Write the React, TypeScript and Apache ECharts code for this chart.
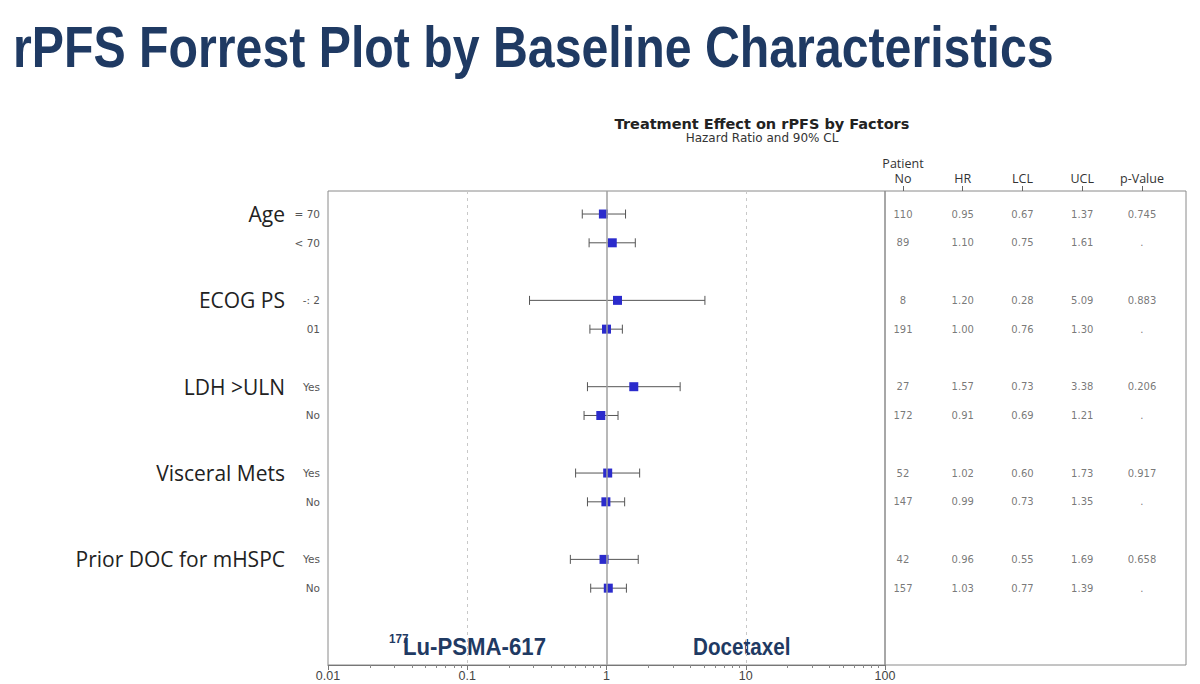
import React, { useEffect, useRef } from "react";
import * as echarts from "echarts";

// ---------- data ----------
const groups = ["Age", "ECOG PS", "LDH >ULN", "Visceral Mets", "Prior DOC for mHSPC"];
const subLabels = ["= 70", "< 70", "-: 2", "01", "Yes", "No", "Yes", "No", "Yes", "No"];
const rowGroup = [0, 0, 1, 1, 2, 2, 3, 3, 4, 4];
const patientNo = [110, 89, 8, 191, 27, 172, 52, 147, 42, 157];
const hr = [0.95, 1.1, 1.2, 1.0, 1.57, 0.91, 1.02, 0.99, 0.96, 1.03];
const lcl = [0.67, 0.75, 0.28, 0.76, 0.73, 0.69, 0.6, 0.73, 0.55, 0.77];
const ucl = [1.37, 1.61, 5.09, 1.3, 3.38, 1.21, 1.73, 1.35, 1.69, 1.39];
const pValue = ["0.745", ".", "0.883", ".", "0.206", ".", "0.917", ".", "0.658", "."];
const tableHeaders = ["Patient\nNo", "HR", "LCL", "UCL", "p-Value"];
const xTickValues = [0.01, 0.1, 1, 10, 100];
const xTickLabels = ["0.01", "0.1", "1", "10", "100"];
const minorMultipliers = [2, 3, 4, 5, 6, 7, 8, 9];
const dashedRefs = [0.1, 10];
const nullEffect = 1;
const armLeft = "Lu-PSMA-617";
const armLeftSup = "177";
const armRight = "Docetaxel";
const mainTitle = "rPFS Forrest Plot by Baseline Characteristics";
const chartTitle = "Treatment Effect on rPFS by Factors";
const chartSubtitle = "Hazard Ratio and 90% CL";

// ---------- derived ----------
const subIndexInGroup = rowGroup.map((g, i) => rowGroup.slice(0, i).filter((x) => x === g).length);
const rowPos = rowGroup.map((g, i) => g * 3 + subIndexInGroup[i]);
const minorTicks = xTickValues
  .slice(0, -1)
  .flatMap((d) => minorMultipliers.map((m) => +(d * m).toPrecision(3)));

const NAVY = "#1f3a63";
const ARIAL = "'Liberation Sans', Arial, sans-serif";
const DEJAVU = "'DejaVu Sans', Verdana, sans-serif";

export default function App() {
  const ref = useRef<HTMLDivElement>(null);

  useEffect(() => {
    if (!ref.current) return;
    const chart = echarts.init(ref.current, null, { renderer: "svg" });

    const yMin = -0.8;
    const yMax = 15.67;

    const tableData: any[] = [];
    rowPos.forEach((y, i) => {
      const vals = [
        String(patientNo[i]),
        hr[i].toFixed(2),
        lcl[i].toFixed(2),
        ucl[i].toFixed(2),
        pValue[i],
      ];
      vals.forEach((t, c) => tableData.push([c, y, t]));
    });

    const option: any = {
      animation: false,
      backgroundColor: "#ffffff",
      title: [
        {
          text: chartTitle,
          subtext: chartSubtitle,
          left: 757,
          textAlign: "center",
          top: 111,
          itemGap: 1,
          textStyle: { fontSize: 14.5, fontWeight: "bold", color: "#222", fontFamily: DEJAVU },
          subtextStyle: { fontSize: 12, color: "#333", fontFamily: DEJAVU },
        },
      ],
      grid: [
        {
          left: 328, right: 315, top: 191, bottom: 19, show: true, borderColor: "#8a8a8a", borderWidth: 1,
          outerBoundsMode: "none", containLabel: false,
        },
        {
          left: 885, right: 14, top: 191, bottom: 19, show: true, borderColor: "#8a8a8a", borderWidth: 1,
          outerBoundsMode: "none", containLabel: false,
        },
      ],
      xAxis: [
        {
          type: "log",
          logBase: 10,
          gridIndex: 0,
          min: 0.01,
          max: 100,
          position: "bottom",
          axisLine: { show: true, onZero: false, lineStyle: { color: "#777" } },
          axisTick: { show: true, customValues: xTickValues, length: 5, lineStyle: { color: "#777" } },
          axisLabel: {
            customValues: xTickValues,
            formatter: (v: number) => {
              let best = 0;
              xTickValues.forEach((t, i) => {
                if (Math.abs(Math.log10(t) - Math.log10(v)) < Math.abs(Math.log10(xTickValues[best]) - Math.log10(v))) best = i;
              });
              return xTickLabels[best];
            },
            color: "#444",
            fontSize: 12.5,
            margin: 4,
            fontFamily: ARIAL,
          },
          splitLine: { show: false },
        },
        {
          type: "log",
          logBase: 10,
          gridIndex: 0,
          min: 0.01,
          max: 100,
          position: "bottom",
          axisLine: { show: false, onZero: false },
          axisTick: { show: true, customValues: minorTicks, length: 3, lineStyle: { color: "#888" } },
          axisLabel: { show: false },
          splitLine: { show: false },
        },
        {
          type: "value",
          gridIndex: 1,
          min: -0.301,
          max: 4.737,
          position: "top",
          axisLine: { show: false, onZero: false },
          axisTick: { show: true, customValues: [0, 1, 2, 3, 4], length: 5, lineStyle: { color: "#666" } },
          axisLabel: {
            customValues: [0, 1, 2, 3, 4],
            formatter: (v: number) => tableHeaders[Math.round(v)] ?? "",
            color: "#333",
            fontSize: 12.5,
            lineHeight: 15,
            margin: 5,
            fontFamily: "'Open Sans', sans-serif",
          },
          splitLine: { show: false },
        },
      ],
      yAxis: [
        {
          type: "value",
          gridIndex: 0,
          inverse: true,
          min: yMin,
          max: yMax,
          axisLine: { show: false, onZero: false },
          axisTick: { show: false },
          splitLine: { show: false },
          axisLabel: {
            customValues: rowPos,
            margin: 8,
            formatter: (v: number) => {
              const i = rowPos.findIndex((p) => Math.abs(p - v) < 0.01);
              if (i < 0) return "";
              if (subIndexInGroup[i] === 0) return `{g|${groups[rowGroup[i]]}}{s|${subLabels[i]}}`;
              return `{s|${subLabels[i]}}`;
            },
            rich: {
              g: { fontSize: 21, color: "#222", fontFamily: "'Open Sans', sans-serif", padding: [0, 3, 0, 0] },
              s: { fontSize: 10.5, color: "#555", fontFamily: DEJAVU, width: 32, align: "right" },
            },
          },
        },
        {
          type: "value",
          gridIndex: 1,
          inverse: true,
          min: yMin,
          max: yMax,
          axisLine: { show: false, onZero: false },
          axisTick: { show: false },
          splitLine: { show: false },
          axisLabel: { show: false },
        },
      ],
      series: [
        {
          type: "scatter",
          xAxisIndex: 0,
          yAxisIndex: 0,
          data: [],
          silent: true,
          markLine: {
            silent: true,
            symbol: ["none", "none"],
            label: { show: false },
            data: [
              ...dashedRefs.map((v) => ({ xAxis: v, lineStyle: { type: [3, 4], color: "#c8c8c8", width: 1 } })),
              { xAxis: nullEffect, lineStyle: { type: "solid", color: "#a0a0a0", width: 1.5 } },
            ],
          },
        },
        {
          type: "custom",
          xAxisIndex: 0,
          yAxisIndex: 0,
          data: rowPos.map((y, i) => [lcl[i], ucl[i], hr[i], y]),
          encode: { x: [0, 1], y: 3 },
          renderItem: (params: any, api: any) => {
            const y = api.value(3);
            const pL = api.coord([api.value(0), y]);
            const pU = api.coord([api.value(1), y]);
            const cap = 4.5;
            const st = { stroke: "#555", lineWidth: 1 };
            return {
              type: "group",
              children: [
                { type: "line", shape: { x1: pL[0], y1: pL[1], x2: pU[0], y2: pU[1] }, style: st },
                { type: "line", shape: { x1: pL[0], y1: pL[1] - cap, x2: pL[0], y2: pL[1] + cap }, style: st },
                { type: "line", shape: { x1: pU[0], y1: pU[1] - cap, x2: pU[0], y2: pU[1] + cap }, style: st },
              ],
            };
          },
          z: 3,
        },
        {
          type: "scatter",
          xAxisIndex: 0,
          yAxisIndex: 0,
          symbol: "rect",
          symbolSize: 9,
          itemStyle: { color: "#2b2bcc", opacity: 1 },
          data: rowPos.map((y, i) => [hr[i], y]),
          z: 4,
        },
        {
          type: "scatter",
          xAxisIndex: 2,
          yAxisIndex: 1,
          symbolSize: 1,
          itemStyle: { color: "rgba(0,0,0,0)" },
          data: tableData,
          label: {
            show: true,
            position: "inside",
            formatter: (p: any) => p.value[2],
            color: "#555",
            fontSize: 10,
            fontFamily: DEJAVU,
          },
          silent: true,
        },
      ],
      graphic: [
        {
          type: "text",
          x: 13,
          y: 47,
          scaleX: 0.847,
          style: {
            text: mainTitle,
            fontSize: 57,
            fontWeight: "bold",
            fontFamily: ARIAL,
            fill: NAVY,
            verticalAlign: "middle",
          },
        },
        {
          type: "text",
          x: 389,
          y: 639,
          scaleX: 0.9,
          style: { text: armLeftSup, fontSize: 13, fontWeight: "bold", fill: NAVY, fontFamily: ARIAL, verticalAlign: "middle" },
        },
        {
          type: "text",
          x: 403,
          y: 647,
          scaleX: 0.925,
          style: { text: armLeft, fontSize: 24, fontWeight: "bold", fill: NAVY, fontFamily: ARIAL, verticalAlign: "middle" },
        },
        {
          type: "text",
          x: 693,
          y: 647,
          scaleX: 0.86,
          style: { text: armRight, fontSize: 24, fontWeight: "bold", fill: NAVY, fontFamily: ARIAL, verticalAlign: "middle" },
        },
      ],
    };

    chart.setOption(option);
    return () => chart.dispose();
  }, []);

  return (
    <div
      ref={ref}
      style={{ position: "fixed", left: 0, top: 0, width: 1200, height: 684, background: "#fff" }}
    />
  );
}
